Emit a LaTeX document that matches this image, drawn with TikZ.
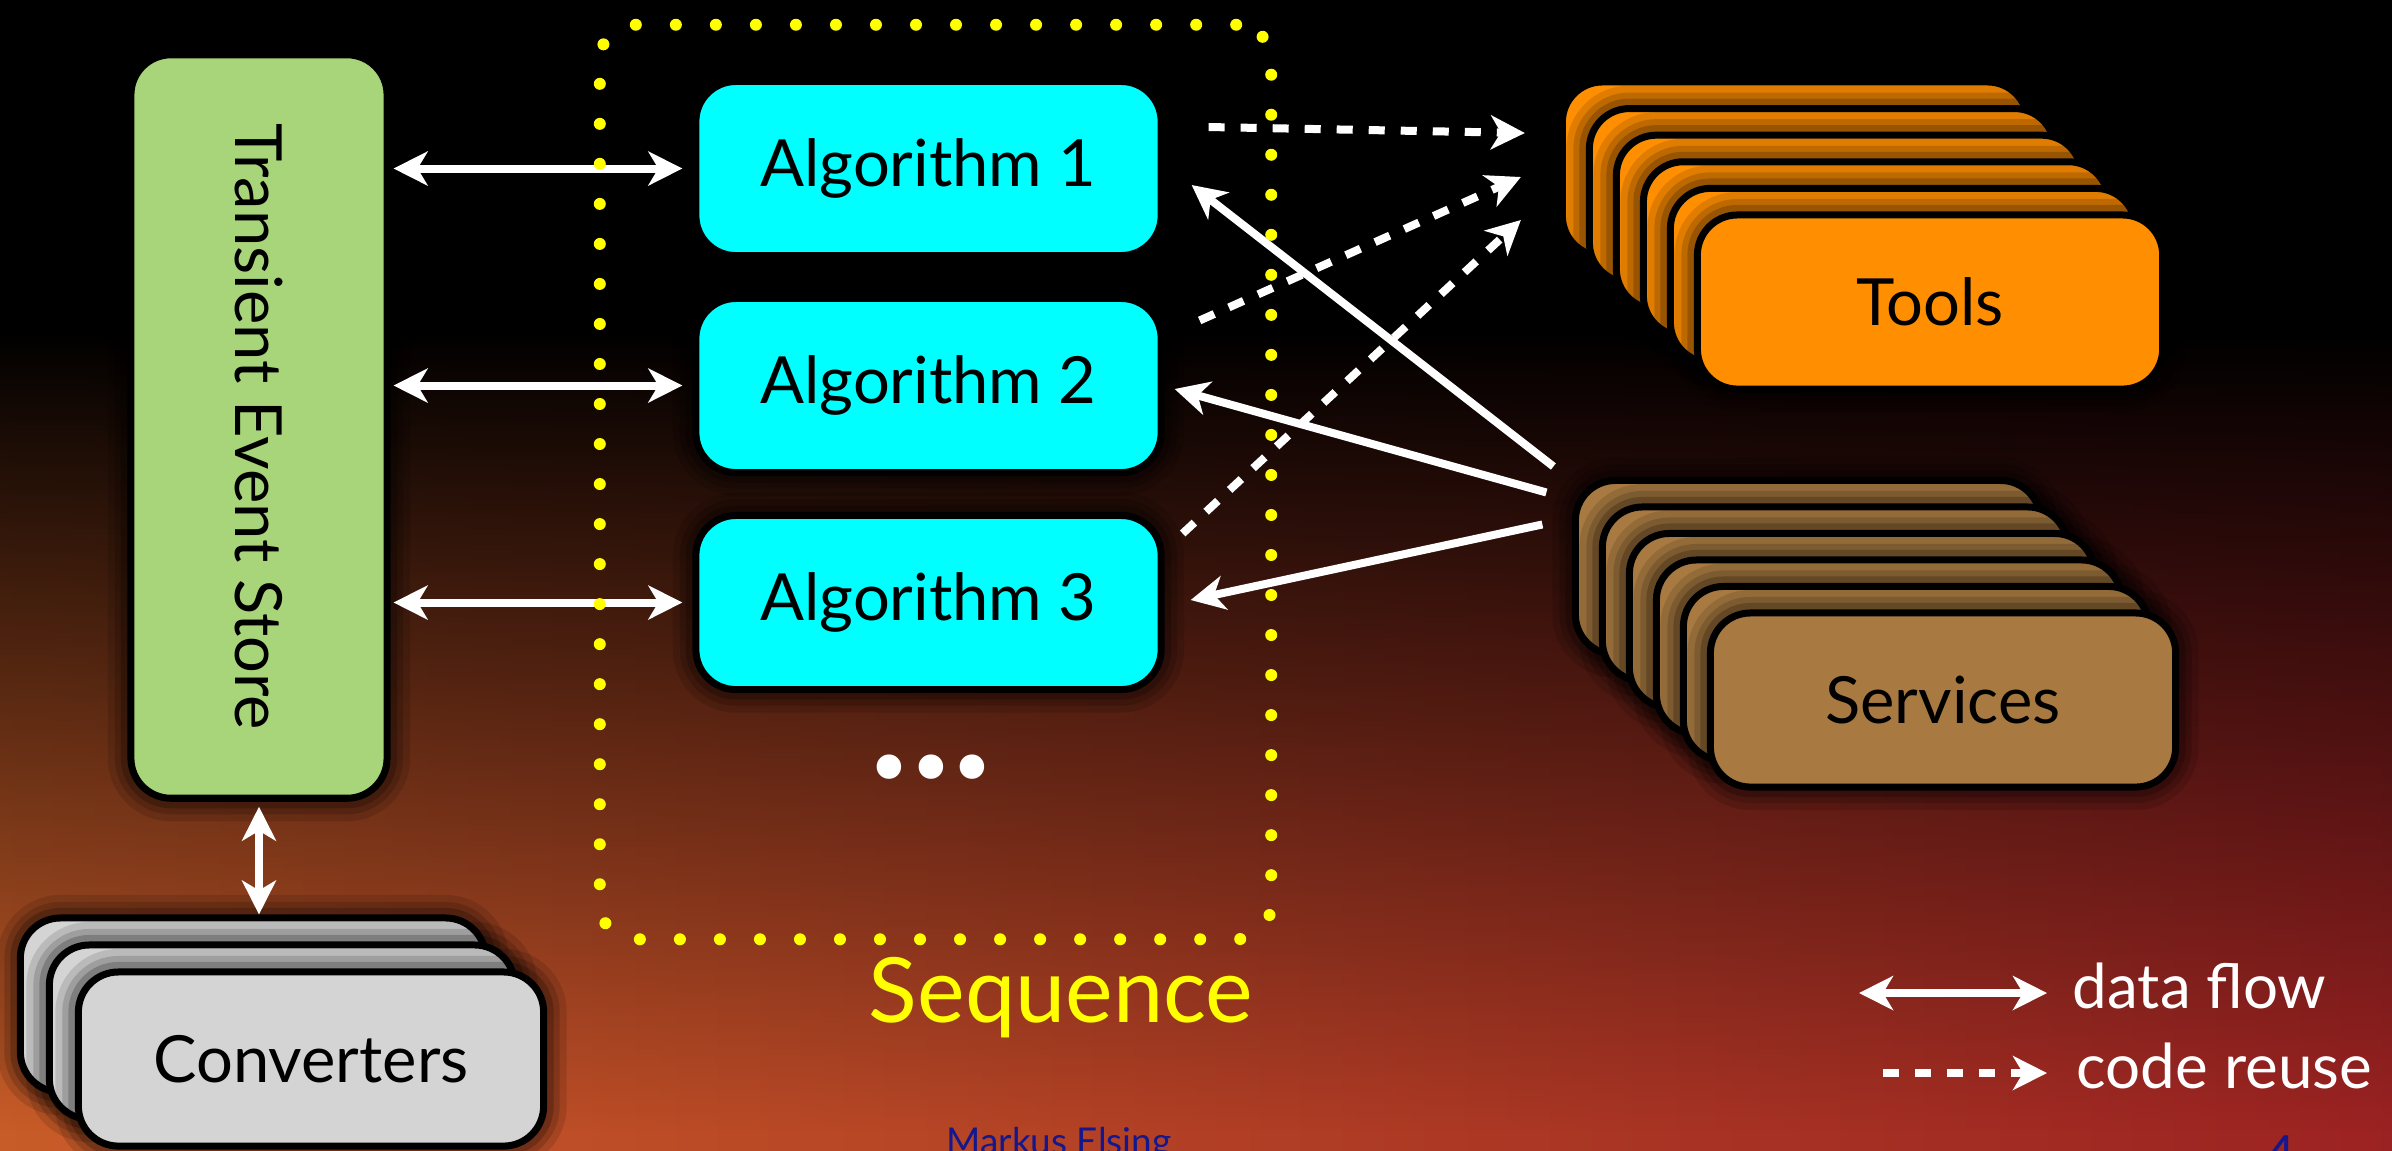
\documentclass[tikz,border=0pt]{standalone}
\usepackage{fontspec}
\setmainfont{Lato}
\newfontfamily\dejavu{DejaVu Sans}
\usetikzlibrary{arrows.meta,calc,fadings}
\definecolor{bgL}{RGB}{200,92,40}
\definecolor{bgR}{RGB}{155,34,34}
\definecolor{tesgreen}{RGB}{168,212,122}
\definecolor{algcyan}{RGB}{0,255,255}
\definecolor{toolorange}{RGB}{255,142,0}
\definecolor{servbrown}{RGB}{168,122,66}
\definecolor{convgray}{RGB}{212,212,212}
\definecolor{seqyellow}{RGB}{255,255,0}
\definecolor{footblue}{RGB}{20,24,140}
\tikzset{
  box/.style={rounded corners=0.4cm, draw=black, line width=0.07cm, inner sep=0pt,
    minimum width=4.65cm, minimum height=1.74cm, text=black,
    font=\fontsize{18.5pt}{22pt}\selectfont,
    preaction={draw=black, draw opacity=0.12, line width=0.46cm},
    preaction={draw=black, draw opacity=0.15, line width=0.32cm},
    preaction={draw=black, draw opacity=0.2, line width=0.2cm}},
  boxtext/.style={text=black, inner sep=0pt, font=\fontsize{18.5pt}{22pt}\selectfont},
  seqframe/.style={draw=seqyellow, line width=0.12cm, dash pattern=on 0pt off 0.4cm,
    line cap=round, rounded corners=0.35cm, inner sep=0pt},
  flow/.style={draw=white, line width=0.08cm, <->},
  oneway/.style={draw=white, line width=0.08cm, ->},
  reuse/.style={draw=white, line width=0.08cm, ->, dash pattern=on 0.16cm off 0.16cm},
  legendtext/.style={text=white, inner sep=0pt, anchor=base west,
    font=\fontsize{17.6pt}{21pt}\selectfont},
}
\begin{document}
\begin{tikzpicture}[x=0.01cm, y=-0.01cm,
  >={Stealth[length=0.34cm,width=0.34cm,inset=0.1cm]}]
\useasboundingbox (0,0) rectangle (2392,1150);
\clip (0,0) rectangle (2392,1150);
% background
\shade[left color=bgL, right color=bgR] (-10,-10) rectangle (2402,1160);
\fill[black] (-60,-10) rectangle (2452,332);
\fill[black, path fading=south] (-60,330) rectangle (2452,1130);

% Transient Event Store
\node[box, fill=tesgreen, minimum width=2.56cm, minimum height=7.43cm] (tes) at (259,426.5) {};
\node[boxtext, rotate=-90] (teslabel) at (tes.center) {Transient Event Store};

% Algorithms
\node[box, fill=algcyan] (alg1) at (928.5,168.5) {Algorithm 1};
\node[box, fill=algcyan] (alg2) at (928.5,385.5) {Algorithm 2};
\node[box, fill=algcyan] (alg3) at (928.5,602.5) {Algorithm 3};
\node[text=white, inner sep=0pt, font=\dejavu\fontsize{24pt}{28pt}\selectfont] (dots) at (931,777) {•\kern-0.1em•\kern-0.1em•};

% Converters stack
\foreach \k in {2,1} {
  \node[box, fill=convgray] (conv\k) at ({311-29*\k},{1059-27*\k}) {};
}
\node[box, fill=convgray] (conv0) at (311,1059) {Converters};

% Tools stack
\foreach \k in {5,4,3,2,1} {
  \node[box, fill=toolorange] (tools\k) at ({1930-27*\k},{302-26.6*\k}) {};
}
\node[box, fill=toolorange] (tools0) at (1930,302) {Tools};

% Services stack
\foreach \k in {5,4,3,2,1} {
  \node[box, fill=servbrown] (serv\k) at ({1943-27*\k},{700-26.5*\k}) {};
}
\node[box, fill=servbrown] (serv0) at (1943,700) {Services};

% data flow TES <-> algorithms
\draw[flow, shorten <=0.03cm, shorten >=0.1cm] (tes.east |- alg1.west) -- (alg1.west);
\draw[flow, shorten <=0.03cm, shorten >=0.1cm] (tes.east |- alg2.west) -- (alg2.west);
\draw[flow, shorten <=0.03cm, shorten >=0.1cm] (tes.east |- alg3.west) -- (alg3.west);
\draw[flow, shorten <=0.05cm] (tes.south) -- (tes.south |- conv2.north);

% code reuse algorithms -> tools
\draw[reuse] ($(alg1.east)+(44,-41.5)$) -- ($(tools5.west)+(-34,-36)$);
\draw[reuse] ($(alg2.north east)+(35,25.5)$) -- ($(tools5.west)+(-38,8)$);
\draw[reuse] ($(alg3.north east)+(18,21.5)$) -- ($(tools5.west)+(-38,51)$);

% services -> algorithms
\draw[oneway] ($(serv5.north west)+(-18.5,-10.5)$) -- ($(alg1.east)+(27,16.5)$);
\draw[oneway] ($(serv5.north west)+(-25.5,15.5)$) -- ($(alg2.east)+(10,3.5)$);
\draw[oneway] ($(serv5.north west)+(-29.5,47.5)$) -- ($(alg3.east)+(26,-2.5)$);

% sequence frame
\node[seqframe, minimum width=6.71cm, minimum height=9.14cm] (seq) at (935.5,482) {};
\node[anchor=base, text=seqyellow, inner sep=0pt, font=\fontsize{25.6pt}{30pt}\selectfont] (seqlabel) at (1061,1022) {Sequence};

% legend
\node[legendtext] (ldf) at (2072,1008) {data flow};
\node[legendtext] (lcr) at (2076,1088) {code reuse};
\coordinate (lfs) at (1859,993);
\coordinate (lcs) at (1883,1073);
\draw[flow, shorten >=0.25cm] (lfs) -- (lfs -| ldf.west);
\draw[reuse, shorten >=0.29cm] (lcs) -- (lcs -| lcr.west);

% footer
\node[anchor=base, text=footblue, inner sep=0pt, font=\fontsize{10.5pt}{12pt}\selectfont] (author) at (1059,1154) {Markus Elsing};
\node[anchor=base, text=footblue, inner sep=0pt, font=\bfseries\fontsize{10.5pt}{12pt}\selectfont] (pnum) at (2282,1162) {4};
\end{tikzpicture}
\end{document}
